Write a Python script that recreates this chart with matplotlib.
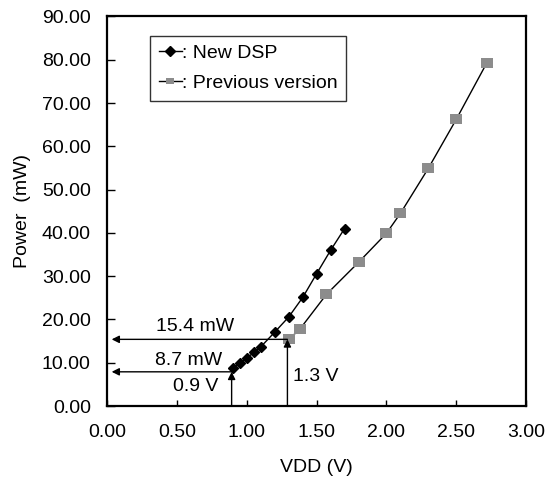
import matplotlib
matplotlib.use("Agg")
import matplotlib.pyplot as plt
from matplotlib.ticker import FormatStrFormatter

plt.rcParams['font.family'] = ['Liberation Sans', 'DejaVu Sans']

# New DSP
vdd_new = [0.90, 0.95, 1.00, 1.05, 1.10, 1.20, 1.30, 1.40, 1.50, 1.60, 1.70]
pow_new = [8.7, 9.9, 11.1, 12.4, 13.7, 17.1, 20.6, 25.1, 30.6, 36.0, 41.0]

# Previous version
vdd_old = [1.30, 1.38, 1.57, 1.80, 2.00, 2.10, 2.30, 2.50, 2.72]
pow_old = [15.4, 17.8, 25.8, 33.2, 39.9, 44.5, 54.9, 66.2, 79.3]

x_ticks = [0.0, 0.5, 1.0, 1.5, 2.0, 2.5, 3.0]
y_ticks = [0, 10, 20, 30, 40, 50, 60, 70, 80, 90]

# 标注点 (V, 箭头高度)
marks = [(0.89, 7.9), (1.29, 15.4)]

FS = 14
rect = [(-1.2, -1), (1.2, -1), (1.2, 1), (-1.2, 1), (-1.2, -1)]   # 略宽的方块标记

fig = plt.figure(figsize=(5.47, 4.78), dpi=100, facecolor='white')
ax = fig.add_axes([0.1965, 0.1506, 0.765, 0.815])

ax.plot(vdd_new, pow_new, color='black', lw=1, marker='D', ms=5.5,
        mfc='black', mec='black', label=': New DSP')
ax.plot(vdd_old, pow_old, color='black', lw=1, marker=rect, ms=8.5,
        mfc='#8c8c8c', mec='#8c8c8c', mew=0, label=': Previous version')

arrow_args = dict(arrowstyle='-|>', color='black', lw=1,
                  mutation_scale=11, shrinkA=0, shrinkB=0)
for v, yarr in marks:
    # 水平箭头指向 y 轴
    ax.annotate('', xy=(0.03, yarr), xytext=(v, yarr), arrowprops=arrow_args)
    # 竖直箭头从 x 轴向上
    ax.annotate('', xy=(v, yarr), xytext=(v, 0), arrowprops=arrow_args)

ax.text(0.63, 18.3, '15.4 mW', fontsize=FS, ha='center', va='center')
ax.text(0.58, 10.4, '8.7 mW', fontsize=FS, ha='center', va='center')
ax.text(0.635, 4.6, '0.9 V', fontsize=FS, ha='center', va='center')
ax.text(1.33, 6.8, '1.3 V', fontsize=FS, ha='left', va='center')

ax.set_xlim(0, 3)
ax.set_ylim(0, 90)
ax.set_xticks(x_ticks)
ax.set_yticks(y_ticks)
ax.xaxis.set_major_formatter(FormatStrFormatter('%.2f'))
ax.yaxis.set_major_formatter(FormatStrFormatter('%.2f'))
ax.tick_params(axis='y', direction='in', length=6, width=1, labelsize=FS, pad=12)
ax.tick_params(axis='x', direction='in', length=4, width=1, labelsize=FS, pad=13)
for s in ax.spines.values():
    s.set_linewidth(1.6)

ax.set_xlabel('VDD (V)', fontsize=FS, labelpad=13)
ax.set_ylabel('Power  (mW)', fontsize=FS, labelpad=8)

leg = ax.legend(loc='upper left', bbox_to_anchor=(0.1016, 0.951), borderaxespad=0,
                fontsize=FS, handlelength=1.2, handletextpad=0, frameon=True,
                fancybox=False, edgecolor='black', borderpad=0.45, labelspacing=0.65)
leg.get_frame().set_linewidth(1)
for h in leg.legend_handles:
    h.set_markersize(5.5)

fig.savefig('out.png', dpi=100, facecolor='white')
